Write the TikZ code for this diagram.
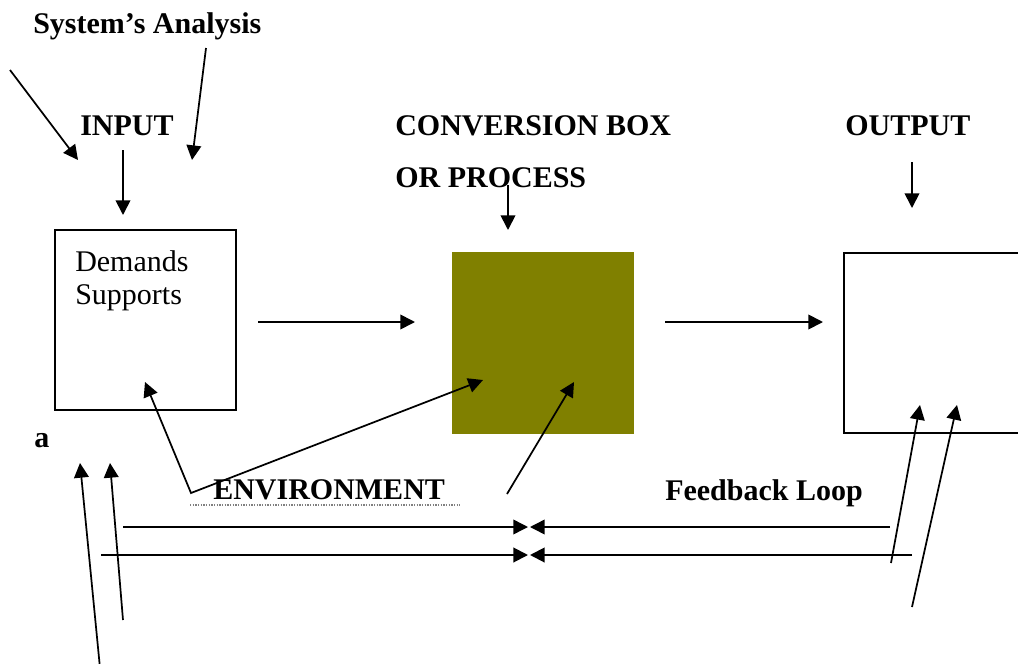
\documentclass[tikz,border=0pt]{standalone}
\usepackage{fontspec}
\setmainfont{Liberation Serif}
\usetikzlibrary{arrows.meta,positioning,calc}
\definecolor{procfill}{HTML}{808000}

\begin{document}
\begin{tikzpicture}[x=0.75pt, y=-0.75pt,
  every node/.style={font=\fontsize{22.5}{25}\selectfont, inner sep=0pt},
  lbl/.style={font=\fontsize{22.5}{25}\selectfont\bfseries, anchor=base west},
  sysbox/.style={draw=black, line width=1.4pt, fill=white,
    minimum width=135.75pt, minimum height=135pt},
  procbox/.style={fill=procfill, minimum width=136.5pt, minimum height=136.5pt},
  arr/.style={-{Triangle[length=11pt, width=11pt]}, line width=1.3pt},
  dblarr/.style={{Triangle[length=11pt, width=11pt]}-{Triangle[length=11pt, width=11pt]}, line width=1.3pt}
]
\path[use as bounding box, clip] (0,0) rectangle (1018,664);
% boxes
\node[sysbox] (inbox) at (145.5,320) {};
\node[anchor=north west, align=left] (demands) at (75,250) {Demands\\Supports};
\node[procbox] (convbox) at (542.5,343) {};
\node[sysbox, minimum width=142pt] (outbox) at (939,343) {};
% labels
\node[lbl] (title) at (33,33) {System’s Analysis};
\node[lbl] (inlbl) at (80,135) {INPUT};
\node[lbl] (convlbl) at (395,135) {CONVERSION BOX};
\node[lbl] (proclbl) at (395,187) {OR PROCESS};
\node[lbl] (outlbl) at (845,135) {OUTPUT};
\node[lbl] (alabel) at (34,447) {a};
\node[lbl] (envlbl) at (213,499) {ENVIRONMENT};
\node[lbl] (fblbl) at (665,500) {Feedback Loop};
% free ends
\coordinate (s1) at (10,70);    \coordinate (t1) at (78,160);
\coordinate (s2) at (206,48);   \coordinate (t2) at (192,160);
\coordinate (s3) at (123,150);  \coordinate (t3) at (123,215);
\coordinate (s4) at (508,185);  \coordinate (t4) at (508,230);
\coordinate (s5) at (912,162);  \coordinate (t5) at (912,208);
\coordinate (s6) at (258,322);  \coordinate (t6) at (415,322);
\coordinate (s7) at (665,322);  \coordinate (t7) at (823,322);
\coordinate (envA) at (145,382); \coordinate (envC) at (191,493); \coordinate (envB) at (483,380);
\coordinate (s8) at (507,494);  \coordinate (t8) at (574,382);
\coordinate (fbUl) at (123,527); \coordinate (fbUr) at (890,527);
\coordinate (fbLl) at (101,555); \coordinate (fbLr) at (912,555);
\coordinate (fbUm) at (528,527); \coordinate (fbUn) at (530,527);
\coordinate (fbLm) at (528,555); \coordinate (fbLn) at (530,555);
\coordinate (la1) at (100,668); \coordinate (la2) at (80,463);
\coordinate (lb1) at (123,620); \coordinate (lb2) at (110,463);
\coordinate (ra1) at (891,563); \coordinate (ra2) at (920,405);
\coordinate (rb1) at (912,607); \coordinate (rb2) at (957,405);
% arrows
\draw[arr] (s1) -- (t1);
\draw[arr] (s2) -- (t2);
\draw[arr] (s3) -- (t3);
\draw[arr] (s4) -- (t4);
\draw[arr] (s5) -- (t5);
\draw[arr] (s6) -- (t6);
\draw[arr] (s7) -- (t7);
\draw[dblarr] (envA) -- (envC) -- (envB);
\draw[arr] (s8) -- (t8);
\draw[gray, line width=1pt, dash pattern=on 1pt off 1pt] (190,505) -- (460,505);
% feedback loop
\draw[arr, line width=1.1pt] (fbUl) -- (fbUm);
\draw[arr, line width=1.1pt] (fbUr) -- (fbUn);
\draw[arr, line width=1.5pt] (fbLl) -- (fbLm);
\draw[arr, line width=1.5pt] (fbLr) -- (fbLn);
\draw[arr] (la1) -- (la2);
\draw[arr] (lb1) -- (lb2);
\draw[arr] (ra1) -- (ra2);
\draw[arr] (rb1) -- (rb2);
\end{tikzpicture}
\end{document}
